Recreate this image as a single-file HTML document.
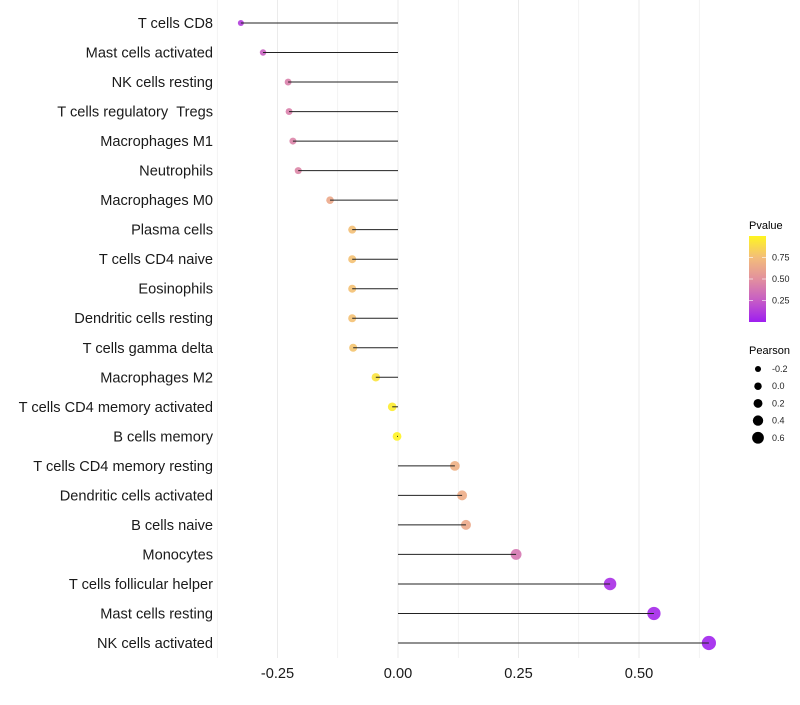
<!DOCTYPE html>
<html><head><meta charset="utf-8"><style>
body{margin:0;background:#fff;font-family:"Liberation Sans",sans-serif}
svg text{font-family:"Liberation Sans",sans-serif}
</style></head><body>
<svg id="c" width="800" height="700" xmlns="http://www.w3.org/2000/svg">
<defs><linearGradient id="pg" x1="0" y1="1" x2="0" y2="0">
<stop offset="0" stop-color="#9E1EF0"/><stop offset="0.25" stop-color="#C65CC6"/><stop offset="0.5" stop-color="#E2909E"/><stop offset="0.75" stop-color="#F3BD7A"/><stop offset="1" stop-color="#FFF520"/></linearGradient></defs>
<g id="grid"></g>
<g id="marks"></g>
<g id="labels"></g>
<g id="xt"></g>
<g>
<text x="749" y="229" font-size="11">Pvalue</text>
<rect x="749" y="236" width="17" height="86" fill="url(#pg)"/>
<g id="cbt"></g>
</g>
<g id="sl">
<text x="749" y="354" font-size="11">Pearson</text>
</g>
</svg>
<script>
const categories=["T cells CD8","Mast cells activated","NK cells resting","T cells regulatory\u00a0\u00a0Tregs","Macrophages M1","Neutrophils","Macrophages M0","Plasma cells","T cells CD4 naive","Eosinophils","Dendritic cells resting","T cells gamma delta","Macrophages M2","T cells CD4 memory activated","B cells memory","T cells CD4 memory resting","Dendritic cells activated","B cells naive","Monocytes","T cells follicular helper","Mast cells resting","NK cells activated"];
const pearson=[-0.326,-0.280,-0.228,-0.226,-0.218,-0.207,-0.141,-0.095,-0.095,-0.095,-0.095,-0.093,-0.046,-0.012,-0.002,0.118,0.133,0.141,0.245,0.44,0.531,0.645];
const pvalue=[0.12,0.28,0.42,0.42,0.44,0.45,0.64,0.76,0.77,0.77,0.77,0.78,0.92,0.96,0.99,0.68,0.66,0.64,0.38,0.06,0.04,0.02];
const xTicks=[-0.25,0,0.25,0.5];
const xTickLabels=["-0.25","0.00","0.25","0.50"];
const cbTicks=[0.25,0.5,0.75];
const cbTickLabels=["0.25","0.50","0.75"];
const sizeTicks=[-0.2,0,0.2,0.4,0.6];
const sizeTickLabels=["-0.2","0.0","0.2","0.4","0.6"];
const NS="http://www.w3.org/2000/svg";
const X=v=>398+v*482;
const Y=i=>23+i*(620/21);
const R=v=>4.4+4.2*v;
const CB=p=>322-p*86;
const stops=[[0,[158,30,240]],[0.25,[198,92,198]],[0.5,[226,144,158]],[0.75,[243,189,122]],[1,[255,245,32]]];
function col(p){for(let k=1;k<stops.length;k++){if(p<=stops[k][0]){const a=stops[k-1],b=stops[k],t=(p-a[0])/(b[0]-a[0]);return "rgb("+a[1].map((c,j)=>Math.round(c+(b[1][j]-c)*t)).join(",")+")";}}return "rgb(255,245,32)";}
function mk(t,at,p){const e=document.createElementNS(NS,t);for(const k in at)e.setAttribute(k,at[k]);p.appendChild(e);return e;}
const grid=document.getElementById('grid');
[-0.375,-0.25,-0.125,0,0.125,0.25,0.375,0.5,0.625].forEach(v=>{const l=mk('line',{x1:X(v),x2:X(v),y1:0,y2:658,stroke:'#ebebeb','stroke-width':Number.isInteger(v*4)?1:0.6},grid);

});
const marks=document.getElementById('marks'),labels=document.getElementById('labels');
categories.forEach((c,i)=>{
const ci=mk('circle',{cx:X(pearson[i]),cy:Y(i),r:R(pearson[i]),fill:col(pvalue[i]),'fill-opacity':0.9},marks);


const l=mk('line',{x1:X(0),x2:X(pearson[i]),y1:Y(i),y2:Y(i),stroke:'#222','stroke-width':1},marks);


const t=mk('text',{x:213,y:Y(i)+5,'text-anchor':'end','font-size':14.6,fill:'#1a1a1a'},labels);t.textContent=c;


});
const xt=document.getElementById('xt');
xTicks.forEach((v,i)=>{const t=mk('text',{x:X(v),y:678,'text-anchor':'middle','font-size':14.6,fill:'#1a1a1a'},xt);t.textContent=xTickLabels[i];

});
const cbt=document.getElementById('cbt');
cbTicks.forEach((v,i)=>{mk('line',{x1:749,x2:753,y1:CB(v),y2:CB(v),stroke:'#fff','stroke-opacity':0.6},cbt);mk('line',{x1:762,x2:766,y1:CB(v),y2:CB(v),stroke:'#fff','stroke-opacity':0.6},cbt);
const t=mk('text',{x:772,y:CB(v)+3,'font-size':9,fill:'#222'},cbt);t.textContent=cbTickLabels[i];

});
const sl=document.getElementById('sl');
sizeTicks.forEach((v,i)=>{const y=369+i*17.2;const c=mk('circle',{cx:758,cy:y,r:R(v)*0.85,fill:'#000'},sl);


const t=mk('text',{x:772,y:y+3,'font-size':9,fill:'#222'},sl);t.textContent=sizeTickLabels[i];

});
</script>
</body></html>
